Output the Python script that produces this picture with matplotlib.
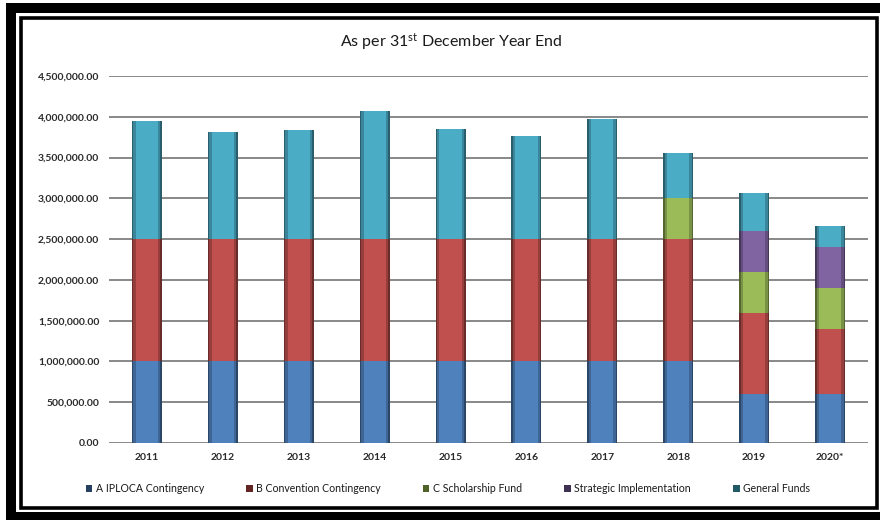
import matplotlib
matplotlib.use("Agg")
import matplotlib.pyplot as plt
import matplotlib.colors as mcolors
from matplotlib.patches import Rectangle
import numpy as np

# ---- data ----
years = ["2011", "2012", "2013", "2014", "2015", "2016", "2017", "2018", "2019", "2020*"]
a_iploca = [1000000, 1000000, 1000000, 1000000, 1000000, 1000000, 1000000, 1000000, 600000, 600000]
b_convention = [1500000, 1500000, 1500000, 1500000, 1500000, 1500000, 1500000, 1500000, 1000000, 800000]
c_scholarship = [0, 0, 0, 0, 0, 0, 0, 500000, 500000, 500000]
strategic = [0, 0, 0, 0, 0, 0, 0, 0, 500000, 500000]
general_funds = [1450000, 1310000, 1340000, 1575000, 1350000, 1265000, 1475000, 550000, 470000, 265000]

series_labels = ["A IPLOCA Contingency", "B Convention Contingency", "C Scholarship Fund",
                 "Strategic Implementation", "General Funds"]
series_values = [a_iploca, b_convention, c_scholarship, strategic, general_funds]
series_colors = ["#4F81BD", "#C0504D", "#9BBB59", "#8064A2", "#4BACC6"]
legend_colors = ["#243F60", "#632523", "#4F6228", "#3F3151", "#215967"]
yticks = [0, 500000, 1000000, 1500000, 2000000, 2500000, 3000000, 3500000, 4000000, 4500000]

plt.rcParams['font.family'] = ['Lato', 'DejaVu Sans']
plt.rcParams['mathtext.fontset'] = 'custom'
plt.rcParams['mathtext.rm'] = 'Lato'
plt.rcParams['mathtext.it'] = 'Lato:italic'
plt.rcParams['mathtext.bf'] = 'Lato:bold'
W, H = 880, 520
fig = plt.figure(figsize=(W / 100, H / 100), dpi=100)

def fx(x):
    return x / W

def fy(y):
    return (H - y) / H

ax = fig.add_axes([fx(109), fy(443), fx(868) - fx(109), fy(76) - fy(443)])

def shade(c, f):
    r, g, b = mcolors.to_rgb(c)
    return (r * f, g * f, b * f)

x = np.arange(len(years))
bw = 0.395
bottom = np.zeros(len(years))
for vals, col in zip(series_values, series_colors):
    v = np.array(vals, dtype=float)
    ax.bar(x, v, bw, bottom=bottom, color=shade(col, 0.55), linewidth=0, zorder=3)
    ax.bar(x, v, bw * 0.90, bottom=bottom, color=shade(col, 0.78), linewidth=0, zorder=3)
    ax.bar(x, v, bw * 0.74, bottom=bottom, color=col, linewidth=0, zorder=3)
    bottom += v

ax.set_xlim(-0.5, len(years) - 0.5)
ax.set_ylim(0, 4500000)
ax.set_yticks(yticks)
ax.set_yticklabels([f"{v:,.2f}" for v in yticks])
ax.set_xticks(x)
ax.set_xticklabels(years)
for s in ax.spines.values():
    s.set_visible(False)
ax.tick_params(axis='both', length=0, colors='#333333', labelsize=7.5)
ax.tick_params(axis='y', pad=7)
ax.tick_params(axis='x', pad=7)
for lab in ax.get_xticklabels() + ax.get_yticklabels():
    lab.set_fontweight('bold')
    lab.set_color('#2a2a2a')
ax.yaxis.grid(True, color='#7f7f7f', linewidth=1.3, zorder=0)
ax.set_axisbelow(True)

fig.text(fx(451), fy(42), "As per 31$^{\\mathrm{st}}$ December Year End", ha='center', va='center',
         fontsize=11.5, color='#1a1a1a')

handles = [Rectangle((0, 0), 1, 1, facecolor=c, edgecolor='none') for c in legend_colors]
fig.legend(handles, series_labels, loc='center', bbox_to_anchor=(fx(448), fy(489)), ncol=5,
           frameon=False, fontsize=7.6, handlelength=0.6, handleheight=0.6, handletextpad=0.35,
           columnspacing=4.0, labelcolor='#1a1a1a')

# frame decorations
def frect(x0, y0, x1, y1, **kw):
    fig.patches.append(Rectangle((fx(x0), fy(y1)), fx(x1) - fx(x0), fy(y0) - fy(y1),
                                 transform=fig.transFigure, figure=fig, **kw))

frect(6, 3, 880, 13, facecolor='black', edgecolor='none')
frect(6, 3, 16, 520, facecolor='black', edgecolor='none')
frect(6, 512, 880, 520, facecolor='black', edgecolor='none')
frect(21, 18, 877, 508, facecolor='none', edgecolor='black', linewidth=2.6)

fig.savefig("out.png", dpi=100)
